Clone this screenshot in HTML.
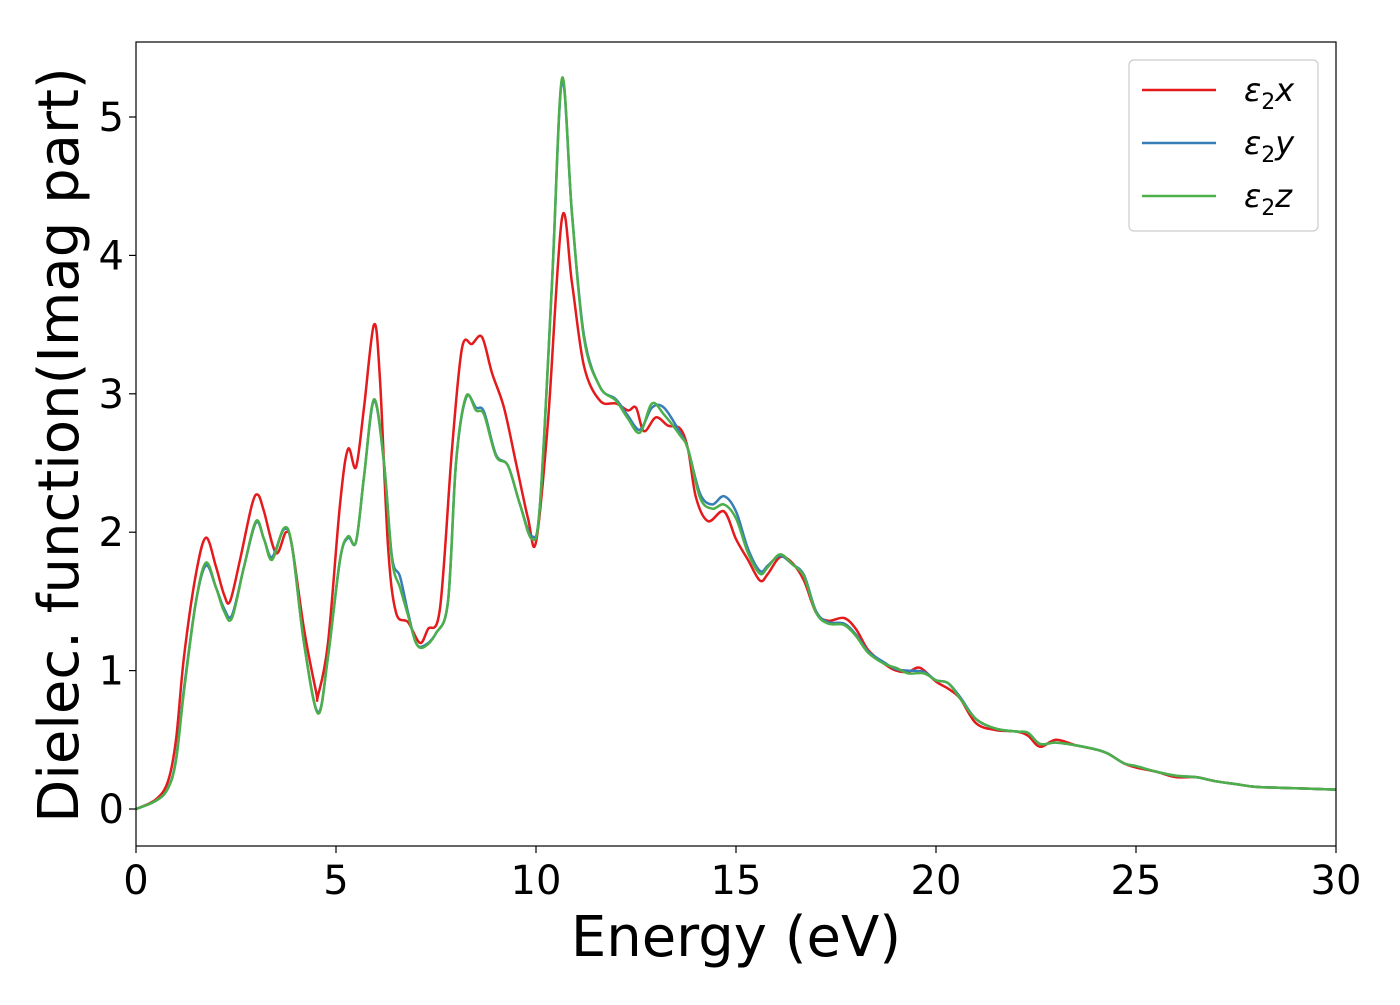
<!DOCTYPE html>
<html><head><meta charset="utf-8"><style>
body{margin:0;background:#fff;}
svg text{font-family:"DejaVu Sans","Liberation Sans",sans-serif;fill:#000;}
</style></head><body>
<svg id="chart" width="1400" height="1000" xmlns="http://www.w3.org/2000/svg">
<g id="plot"></g>
</svg>
<script>
const xTicks=[0,5,10,15,20,25,30];
const yTicks=[0,1,2,3,4,5];
const seriesNames=["ε2x","ε2y","ε2z"];
const seriesColors=["#e41a1c","#377eb8","#4daf4a"];
const redE=[0,0.5,0.8,1.0,1.2,1.5,1.75,2.0,2.2,2.35,2.6,2.9,3.05,3.2,3.5,3.75,3.9,4.2,4.5,4.55,4.8,5.1,5.3,5.5,5.7,5.95,6.1,6.3,6.5,6.8,7.1,7.3,7.6,7.9,8.15,8.4,8.65,8.9,9.2,9.5,9.8,10.0,10.3,10.65,10.9,11.2,11.6,12.0,12.3,12.5,12.7,13.0,13.3,13.6,13.8,14.0,14.3,14.7,15.0,15.3,15.6,15.8,16.1,16.4,16.7,17.0,17.3,17.7,18.0,18.3,18.7,19.0,19.3,19.6,20.0,20.3,20.6,21.0,21.5,22.0,22.3,22.6,23.0,23.5,24.0,24.3,24.7,25.0,25.5,26.0,26.5,27.0,27.5,28.0,29.0,30];
const redV=[0,0.07,0.2,0.5,1.1,1.7,1.96,1.75,1.55,1.5,1.8,2.2,2.27,2.15,1.85,2.0,1.9,1.3,0.85,0.82,1.2,2.2,2.6,2.47,2.9,3.5,3.1,1.9,1.42,1.35,1.2,1.3,1.45,2.6,3.33,3.36,3.41,3.15,2.9,2.5,2.1,1.93,2.8,4.27,3.8,3.2,2.95,2.93,2.88,2.9,2.73,2.83,2.77,2.75,2.6,2.25,2.08,2.15,1.95,1.8,1.65,1.7,1.82,1.78,1.65,1.42,1.36,1.38,1.3,1.15,1.05,1.0,0.99,1.02,0.92,0.87,0.8,0.62,0.57,0.56,0.53,0.45,0.5,0.46,0.43,0.4,0.33,0.3,0.27,0.23,0.23,0.2,0.18,0.16,0.15,0.14];
const greenE=[0,0.5,0.8,1.0,1.2,1.5,1.75,2.0,2.2,2.4,2.7,3.0,3.2,3.4,3.7,3.9,4.2,4.55,4.8,5.1,5.3,5.5,5.7,5.95,6.2,6.4,6.6,6.8,7.0,7.2,7.5,7.8,8.0,8.25,8.5,8.7,9.0,9.3,9.6,9.9,10.1,10.4,10.65,10.9,11.2,11.6,12.0,12.3,12.6,12.9,13.2,13.6,13.8,14.1,14.4,14.7,15.0,15.3,15.6,15.8,16.1,16.4,16.7,17.0,17.3,17.7,18.0,18.3,18.7,19.0,19.3,19.7,20.0,20.3,20.6,21.0,21.5,22.0,22.3,22.6,23.0,23.5,24.0,24.3,24.7,25.0,25.5,26.0,26.5,27,27.5,28,29,30];
const greenV=[0,0.06,0.15,0.35,0.85,1.5,1.78,1.6,1.43,1.38,1.75,2.08,1.95,1.8,2.03,1.9,1.2,0.69,1.1,1.8,1.97,1.93,2.4,2.96,2.5,1.8,1.6,1.4,1.2,1.17,1.27,1.5,2.5,2.98,2.88,2.85,2.55,2.48,2.2,1.95,2.2,3.8,5.28,4.3,3.4,3.05,2.95,2.82,2.72,2.93,2.85,2.7,2.6,2.25,2.17,2.2,2.1,1.85,1.7,1.75,1.84,1.77,1.68,1.42,1.34,1.33,1.25,1.13,1.05,1.02,0.98,0.98,0.93,0.91,0.8,0.65,0.58,0.56,0.55,0.47,0.48,0.46,0.43,0.4,0.33,0.31,0.27,0.24,0.23,0.2,0.18,0.16,0.15,0.14];
const blueE=greenE.slice();
const blueV=[0,0.06,0.15,0.36,0.87,1.5,1.76,1.6,1.45,1.4,1.75,2.07,1.95,1.82,2.02,1.9,1.2,0.7,1.1,1.8,1.96,1.93,2.4,2.95,2.5,1.82,1.68,1.42,1.2,1.18,1.27,1.5,2.5,2.97,2.9,2.87,2.56,2.48,2.2,1.97,2.2,3.8,5.26,4.3,3.42,3.05,2.96,2.84,2.74,2.9,2.9,2.72,2.6,2.28,2.2,2.26,2.15,1.88,1.72,1.76,1.83,1.77,1.69,1.43,1.35,1.34,1.26,1.14,1.06,1.01,1.0,0.99,0.93,0.91,0.81,0.65,0.58,0.56,0.55,0.47,0.48,0.46,0.43,0.4,0.33,0.31,0.27,0.24,0.23,0.2,0.18,0.16,0.15,0.14];

const L=136,R=1336,T=42,B=846;
const X=e=>L+(e-0)/(30-0)*(R-L);
const Y=v=>809-v*138.4;
const NS="http://www.w3.org/2000/svg";
const g=document.getElementById('plot');
function mk(tag,attrs){const el=document.createElementNS(NS,tag);for(const k in attrs)el.setAttribute(k,attrs[k]);g.appendChild(el);return el;}
function pathFor(E,V){
  const p=E.map((e,i)=>[X(e),Y(V[i])]);
  let d="M"+p[0][0]+","+p[0][1];
  for(let i=0;i<p.length-1;i++){
    const p0=p[Math.max(0,i-1)],p1=p[i],p2=p[i+1],p3=p[Math.min(p.length-1,i+2)];
    const c1x=p1[0]+(p2[0]-p0[0])/6,c1y=p1[1]+(p2[1]-p0[1])/6;
    const c2x=p2[0]-(p3[0]-p1[0])/6,c2y=p2[1]-(p3[1]-p1[1])/6;
    d+=" C"+c1x.toFixed(2)+","+c1y.toFixed(2)+" "+c2x.toFixed(2)+","+c2y.toFixed(2)+" "+p2[0].toFixed(2)+","+p2[1].toFixed(2);
  }
  return d;
}
const clip=document.createElementNS(NS,'clipPath');clip.setAttribute('id','cp');
const cr=document.createElementNS(NS,'rect');cr.setAttribute('x',L);cr.setAttribute('y',T);cr.setAttribute('width',R-L);cr.setAttribute('height',B-T);
clip.appendChild(cr);document.getElementById('chart').appendChild(clip);
const data=[[redE,redV],[blueE,blueV],[greenE,greenV]];
const names=['series-e2x','series-e2y','series-e2z'];
data.forEach((s,i)=>{
  const el=mk('path',{d:pathFor(s[0],s[1]),fill:'none',stroke:seriesColors[i],'stroke-width':2.5,'clip-path':'url(#cp)'});
  
  
});
const frame=mk('rect',{x:L,y:T,width:R-L,height:B-T,fill:'none',stroke:'#000','stroke-width':1.2});


xTicks.forEach(t=>{
  const tk=mk('line',{x1:X(t),x2:X(t),y1:B,y2:B+7,stroke:'#000','stroke-width':1.2});
  
  
  const tx=mk('text',{x:X(t),y:B+48,'font-size':40,'text-anchor':'middle'});tx.textContent=t;
  
  
});
yTicks.forEach(t=>{
  const tk=mk('line',{x1:L-7,x2:L,y1:Y(t),y2:Y(t),stroke:'#000','stroke-width':1.2});
  
  
  const tx=mk('text',{x:L-12,y:Y(t)+14,'font-size':40,'text-anchor':'end'});tx.textContent=t;
  
  
});
const xl=mk('text',{x:736,y:956,'font-size':56,'text-anchor':'middle'});xl.textContent='Energy (eV)';


const yl=mk('text',{x:0,y:0,'font-size':56,'text-anchor':'middle',transform:'translate(78,445) rotate(-90)'});yl.textContent='Dielec. function(Imag part)';


const lb=mk('rect',{x:1129,y:60,width:189,height:171,rx:5,fill:'#fff',stroke:'#ccc','stroke-width':1.2});


const sub=['x','y','z'];
[90,143,196].forEach((yy,i)=>{
  const ln=mk('line',{x1:1142,x2:1216,y1:yy,y2:yy,stroke:seriesColors[i],'stroke-width':2.5});
  
  
  const tx=mk('text',{x:1244,y:yy+11,'font-size':32,'font-style':'italic'});
  
  
  tx.innerHTML='ε<tspan font-style="normal" font-size="22" dy="8">2</tspan><tspan dy="-8">'+sub[i]+'</tspan>';
});
</script>
</body></html>
